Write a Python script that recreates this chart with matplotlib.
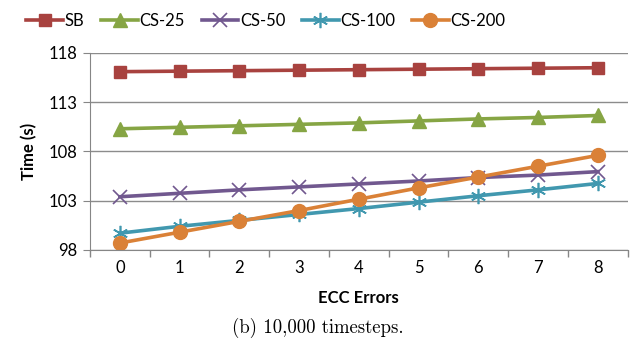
import matplotlib.pyplot as plt
from matplotlib.ticker import MultipleLocator

plt.rcParams['font.family'] = ['Lato', 'DejaVu Sans']

ecc_errors = [0, 1, 2, 3, 4, 5, 6, 7, 8]
sb = [116.1, 116.15, 116.2, 116.25, 116.3, 116.35, 116.4, 116.45, 116.5]
cs25 = [110.3, 110.45, 110.6, 110.75, 110.9, 111.1, 111.3, 111.45, 111.65]
cs50 = [103.4, 103.75, 104.1, 104.4, 104.7, 105.0, 105.35, 105.6, 105.95]
cs100 = [99.7, 100.4, 101.0, 101.6, 102.2, 102.85, 103.5, 104.1, 104.75]
cs200 = [98.7, 99.8, 100.9, 102.0, 103.15, 104.3, 105.4, 106.5, 107.6]

series = [
    ("SB", sb, "#A8423F", "s", 9),
    ("CS-25", cs25, "#86A544", "^", 10),
    ("CS-50", cs50, "#71588F", "x", 10),
    ("CS-100", cs100, "#4198AF", "*", 11),
    ("CS-200", cs200, "#DA8137", "o", 10),
]

fig = plt.figure(figsize=(6.36, 3.53), dpi=100)
ax = fig.add_axes([0.1415, 0.292, 0.987 - 0.1415, 0.558])

for name, vals, col, mk, ms in series:
    if mk == "*":
        # asterisk made of thin strokes
        ax.plot(ecc_errors, vals, color=col, lw=2.6, marker=(6, 2, 0),
                markersize=ms, markeredgewidth=1.2, label=name)
    elif mk == "x":
        ax.plot(ecc_errors, vals, color=col, lw=2.6, marker="x", markersize=ms,
                markeredgewidth=1.2, label=name)
    else:
        ax.plot(ecc_errors, vals, color=col, lw=2.6, marker=mk, markersize=ms,
                markeredgecolor=col, label=name)

ax.set_xlim(-0.5, 8.5)
ax.set_ylim(98, 118)
ax.set_yticks([98, 103, 108, 113, 118])
ax.set_xticks(ecc_errors)
ax.xaxis.set_minor_locator(MultipleLocator(1, offset=0.5))
ax.tick_params(axis='x', which='major', length=0, labelsize=12, pad=7)
ax.tick_params(axis='x', which='minor', length=5, color='#868686', width=1)
ax.tick_params(axis='y', length=5, color='#868686', labelsize=12, pad=4)

ax.grid(axis='y', color='#8C8C8C', lw=1)
ax.set_axisbelow(True)
for s in ['top', 'right']:
    ax.spines[s].set_visible(False)
ax.spines['left'].set_color('#868686')
ax.spines['bottom'].set_color('#868686')

ax.set_ylabel("Time (s)", fontsize=12, fontweight='bold', labelpad=8)
ax.set_xlabel("ECC Errors", fontsize=12, fontweight='bold', labelpad=10)

fig.legend(loc='upper center', bbox_to_anchor=(0.418, 1.005), ncol=5, frameon=False,
           fontsize=12, handlelength=2.2, handletextpad=0.1, columnspacing=1.0)

fig.text(0.5, 0.072, "(b) 10,000 timesteps.", ha='center', va='center',
         fontsize=13.5, family=['cmr10', 'DejaVu Serif'])

fig.savefig("out.png", dpi=100)
